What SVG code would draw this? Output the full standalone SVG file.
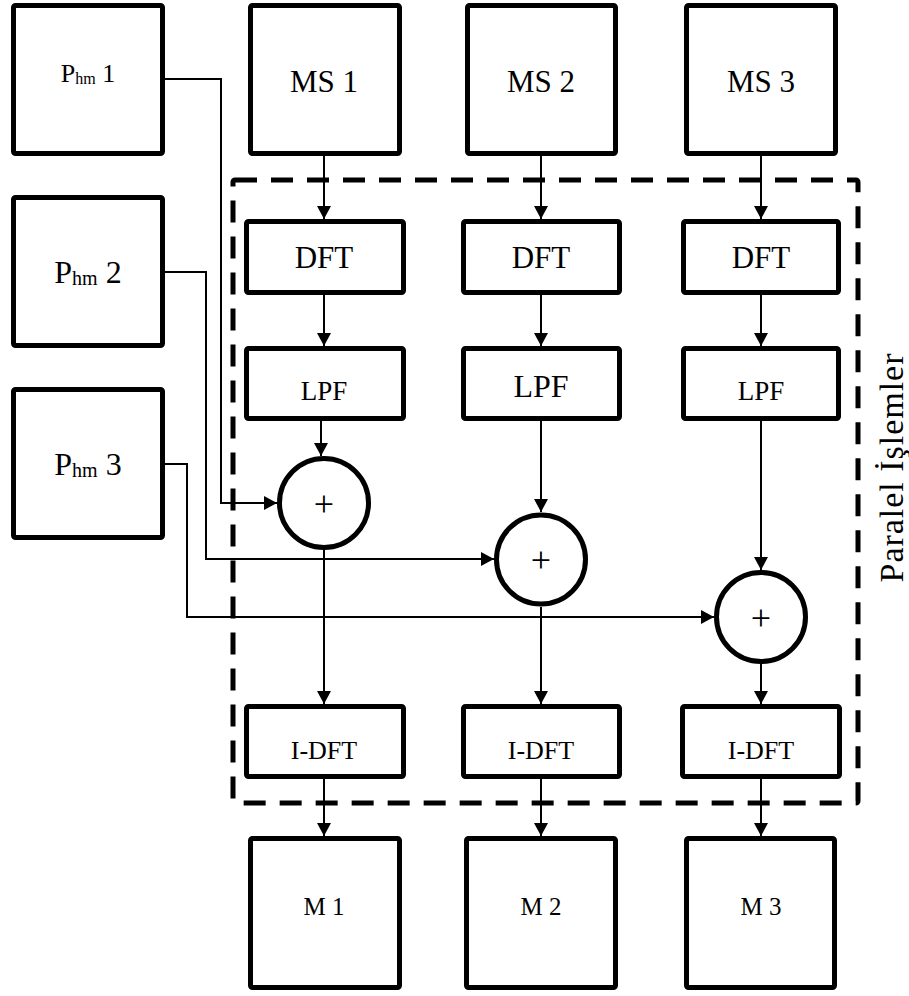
<svg xmlns="http://www.w3.org/2000/svg" width="909" height="996" viewBox="0 0 909 996">
<style>
.box{fill:#fff;stroke:#000;stroke-width:5;stroke-linejoin:round}
.ln{fill:none;stroke:#000;stroke-width:2}
.t{font-family:"Liberation Serif","Times New Roman",serif;fill:#000;text-anchor:middle}
.dash{fill:none;stroke:#000;stroke-width:5;stroke-dasharray:22 14;stroke-linejoin:round}
</style>
<defs>
<marker id="ah" markerUnits="userSpaceOnUse" markerWidth="14" markerHeight="14" refX="13" refY="7" orient="auto">
<path d="M0,0 L13,7 L0,14 Z" fill="#000"/>
</marker>
</defs>
<rect width="909" height="996" fill="#fff"/>
<g id="group-parallel">
<rect class="dash" x="233" y="180" width="625" height="623" rx="2"/>
<text class="t" font-size="34" textLength="229" lengthAdjust="spacing" transform="translate(903,468) rotate(-90)">Paralel İşlemler</text>
</g>
<g id="connectors">
<polyline class="ln" points="165,79 221,79 221,503 277,503" marker-end="url(#ah)"/>
<polyline class="ln" points="165,272 206,272 206,559 494,559" marker-end="url(#ah)"/>
<polyline class="ln" points="165,464 187,464 187,617 714,617" marker-end="url(#ah)"/>
<line class="ln" x1="324" y1="156" x2="324" y2="219" marker-end="url(#ah)"/>
<line class="ln" x1="324" y1="295" x2="324" y2="346" marker-end="url(#ah)"/>
<line class="ln" x1="321" y1="421" x2="321" y2="456" marker-end="url(#ah)"/>
<line class="ln" x1="324" y1="550" x2="324" y2="704" marker-end="url(#ah)"/>
<line class="ln" x1="324" y1="779" x2="324" y2="836" marker-end="url(#ah)"/>
<line class="ln" x1="541" y1="156" x2="541" y2="219" marker-end="url(#ah)"/>
<line class="ln" x1="541" y1="295" x2="541" y2="346" marker-end="url(#ah)"/>
<line class="ln" x1="541" y1="421" x2="541" y2="512" marker-end="url(#ah)"/>
<line class="ln" x1="541" y1="607" x2="541" y2="704" marker-end="url(#ah)"/>
<line class="ln" x1="541" y1="779" x2="541" y2="836" marker-end="url(#ah)"/>
<line class="ln" x1="761" y1="156" x2="761" y2="219" marker-end="url(#ah)"/>
<line class="ln" x1="761" y1="295" x2="761" y2="346" marker-end="url(#ah)"/>
<line class="ln" x1="761" y1="421" x2="761" y2="570" marker-end="url(#ah)"/>
<line class="ln" x1="761" y1="664" x2="761" y2="704" marker-end="url(#ah)"/>
<line class="ln" x1="761" y1="779" x2="761" y2="836" marker-end="url(#ah)"/>
</g>
<g id="phm1"><rect class="box" x="13.5" y="5.5" width="149" height="148" rx="2"/>
<text class="t" x="88" y="82" font-size="26">P<tspan font-size="16" dy="2">hm</tspan><tspan dy="-2"> 1</tspan></text></g>
<g id="phm2"><rect class="box" x="13.5" y="197.5" width="149" height="148" rx="2"/>
<text class="t" x="88" y="283" font-size="32">P<tspan font-size="20" dy="2">hm</tspan><tspan dy="-2"> 2</tspan></text></g>
<g id="phm3"><rect class="box" x="13.5" y="389.5" width="149" height="148" rx="2"/>
<text class="t" x="88" y="475" font-size="32">P<tspan font-size="20" dy="2">hm</tspan><tspan dy="-2"> 3</tspan></text></g>
<g id="ms1"><rect class="box" x="250.5" y="5.5" width="149" height="148" rx="2"/><text class="t" x="324" y="92" font-size="31">MS 1</text></g>
<g id="ms2"><rect class="box" x="467.5" y="5.5" width="148" height="148" rx="2"/><text class="t" x="541" y="92" font-size="31">MS 2</text></g>
<g id="ms3"><rect class="box" x="686.5" y="5.5" width="149" height="148" rx="2"/><text class="t" x="761" y="92" font-size="31">MS 3</text></g>
<g id="dft1"><rect class="box" x="246.5" y="221.5" width="157" height="71" rx="2"/><text class="t" x="324" y="268" font-size="31">DFT</text></g>
<g id="dft2"><rect class="box" x="463.5" y="221.5" width="156" height="71" rx="2"/><text class="t" x="541" y="268" font-size="31">DFT</text></g>
<g id="dft3"><rect class="box" x="683.5" y="221.5" width="155" height="71" rx="2"/><text class="t" x="761" y="268" font-size="31">DFT</text></g>
<g id="lpf1"><rect class="box" x="246.5" y="348.5" width="157" height="70" rx="2"/><text class="t" x="324" y="400" font-size="27">LPF</text></g>
<g id="lpf2"><rect class="box" x="463.5" y="348.5" width="156" height="70" rx="2"/><text class="t" x="541" y="397" font-size="32">LPF</text></g>
<g id="lpf3"><rect class="box" x="683.5" y="348.5" width="155" height="70" rx="2"/><text class="t" x="761" y="400" font-size="27">LPF</text></g>
<g id="sum1"><circle class="box" cx="324" cy="503" r="44.5"/><text class="t" x="324" y="516" font-size="36" fill="#222">+</text></g>
<g id="sum2"><circle class="box" cx="541" cy="559.5" r="44.5"/><text class="t" x="541" y="572" font-size="36" fill="#222">+</text></g>
<g id="sum3"><circle class="box" cx="761" cy="617" r="44.5"/><text class="t" x="761" y="630" font-size="36" fill="#222">+</text></g>
<g id="idft1"><rect class="box" x="246.5" y="706.5" width="157" height="70" rx="2"/><text class="t" x="324" y="759" font-size="26">I-DFT</text></g>
<g id="idft2"><rect class="box" x="463.5" y="706.5" width="156" height="70" rx="2"/><text class="t" x="541" y="759" font-size="26">I-DFT</text></g>
<g id="idft3"><rect class="box" x="682.5" y="706.5" width="157" height="70" rx="2"/><text class="t" x="761" y="759" font-size="26">I-DFT</text></g>
<g id="m1"><rect class="box" x="250.5" y="838.5" width="149" height="149" rx="2"/><text class="t" x="324" y="915" font-size="25">M 1</text></g>
<g id="m2"><rect class="box" x="466.5" y="838.5" width="149" height="149" rx="2"/><text class="t" x="541" y="915" font-size="25">M 2</text></g>
<g id="m3"><rect class="box" x="686.5" y="838.5" width="148" height="149" rx="2"/><text class="t" x="761" y="915" font-size="25">M 3</text></g>
</svg>
